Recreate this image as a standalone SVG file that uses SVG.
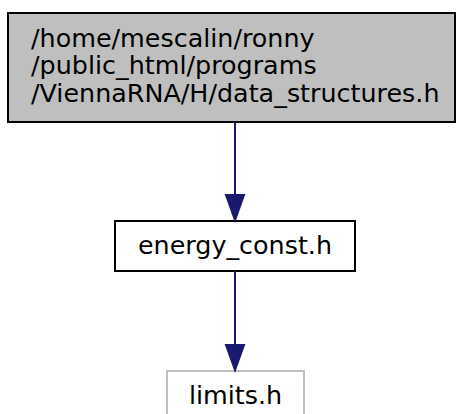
<svg xmlns="http://www.w3.org/2000/svg" width="456" height="414" viewBox="0 0 456 414">
<defs>
<style>
text{font-family:"DejaVu Sans",sans-serif;font-size:25.4px;fill:#000}
.edge{stroke:#191970;stroke-width:2;fill:none}
.head{fill:#191970;stroke:#191970;stroke-width:2}
</style>
</defs>
<rect width="456" height="414" fill="#fff"/>
<g id="node1">
<rect x="8" y="13" width="447" height="109" fill="#bfbfbf" stroke="#000" stroke-width="2"/>
<text x="31" y="46.5">/home/mescalin/ronny</text>
<text x="31" y="74">/public_html/programs</text>
<text x="31" y="101.5">/ViennaRNA/H/data_structures.h</text>
</g>
<g id="node2">
<rect x="115" y="221" width="240" height="50" fill="#fff" stroke="#000" stroke-width="2"/>
<text x="235" y="254" text-anchor="middle">energy_const.h</text>
</g>
<g id="node3">
<rect x="167" y="371" width="137" height="50" fill="#fff" stroke="#bfbfbf" stroke-width="2"/>
<text x="235.5" y="404" text-anchor="middle">limits.h</text>
</g>
<g id="edges">
<line class="edge" x1="235" y1="122" x2="235" y2="195"/>
<polygon class="head" points="226,195 244,195 235,220"/>
<line class="edge" x1="235" y1="271" x2="235" y2="345"/>
<polygon class="head" points="226,345 244,345 235,370"/>
</g>
</svg>
